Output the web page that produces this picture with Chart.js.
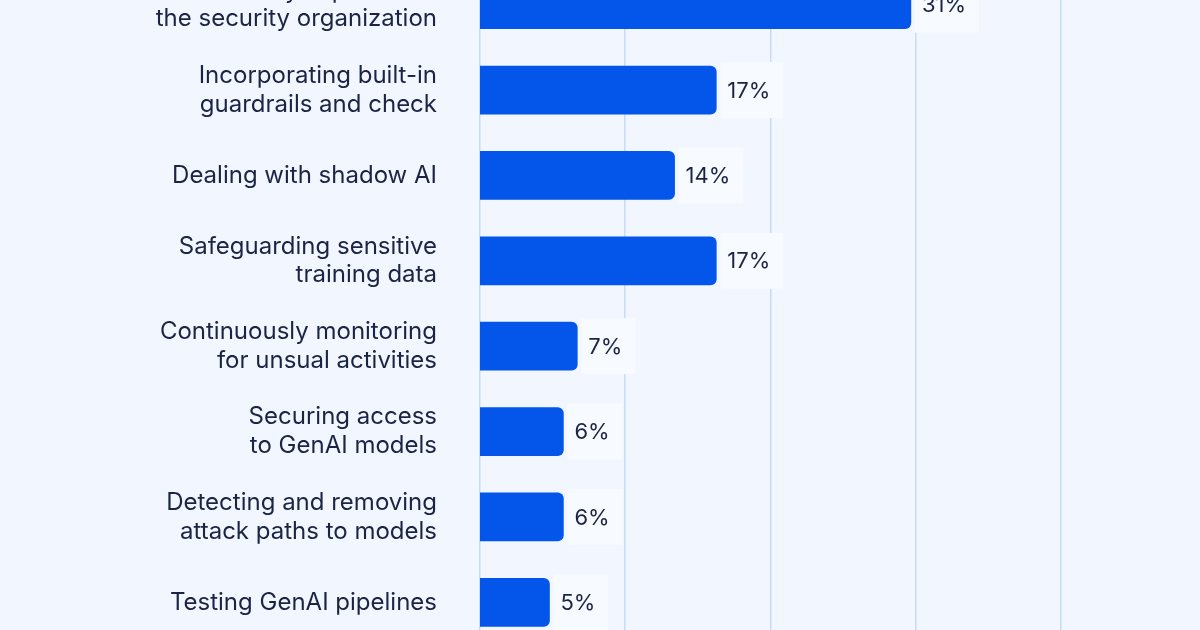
<!DOCTYPE html>
<html>
<head>
  <title>GenAI security challenges</title>
  <script src="https://cdn.jsdelivr.net/npm/chart.js"></script>
  <style>
    html, body {
      margin: 0;
      padding: 0;
      background: #f2f6fe;
      overflow: hidden;
      width: 1200px;
      height: 630px;
    }
    #challengeChart {
      position: absolute;
      left: 0;
      top: -38px;
    }
  </style>
</head>
<body>
  <canvas id="challengeChart" width="1200" height="683"></canvas>

  <script>
    const categories = [
      ['Lack of AI security expertise in', 'the security organization'],
      ['Incorporating built-in', 'guardrails and check'],
      'Dealing with shadow AI',
      ['Safeguarding sensitive', 'training data'],
      ['Continuously monitoring', 'for unsual activities'],
      ['Securing access', 'to GenAI models'],
      ['Detecting and removing', 'attack paths to models'],
      'Testing GenAI pipelines'
    ];
    const shares = [31, 17, 14, 17, 7, 6, 6, 5];
    const valueLabels = ['31%', '17%', '14%', '17%', '7%', '6%', '6%', '5%'];

    const FONT = 'Inter, "DejaVu Sans", sans-serif';
    const TEXT = '#1b2444';

    // 값 라벨 그리기 (밝은 박스 위에)
    const valueLabelPlugin = {
      id: 'valueLabels',
      afterDatasetsDraw(chart) {
        const ctx = chart.ctx;
        const meta = chart.getDatasetMeta(0);
        ctx.save();
        ctx.font = '400 22px ' + FONT;
        ctx.textBaseline = 'middle';
        ctx.textAlign = 'left';
        meta.data.forEach((bar, i) => {
          const text = valueLabels[i];
          const w = ctx.measureText(text).width;
          ctx.fillStyle = '#f7faff';
          ctx.fillRect(bar.x + 4, bar.y - 28, w + 20, 56);
          ctx.fillStyle = TEXT;
          ctx.fillText(text, bar.x + 11, bar.y + 1);
        });
        ctx.restore();
      }
    };

    const ctx = document.getElementById('challengeChart').getContext('2d');
    const chart = new Chart(ctx, {
      type: 'bar',
      data: {
        labels: categories,
        datasets: [{
          data: shares,
          backgroundColor: '#0455ea',
          borderRadius: 6,
          borderSkipped: 'start',
          barThickness: 48
        }]
      },
      options: {
        indexAxis: 'y',
        responsive: false,
        animation: false,
        layout: { padding: 0 },
        plugins: {
          legend: { display: false },
          tooltip: { enabled: false }
        },
        scales: {
          x: {
            min: 0,
            max: 51.8,
            display: false
          },
          grid: {
            type: 'linear',
            axis: 'x',
            position: 'bottom',
            min: 0,
            max: 4.957,
            ticks: { display: false, stepSize: 1, includeBounds: false },
            grid: { color: '#c6dafc', lineWidth: 1.5, drawTicks: false },
            border: { display: false }
          },
          y: {
            grid: { display: false, drawTicks: false },
            border: { display: false },
            afterFit(scale) {
              scale.width = 480;
              scale.paddingTop = 0;
              scale.paddingBottom = 0;
            },
            ticks: {
              color: TEXT,
              padding: 43,
              font: { family: FONT, size: 24, lineHeight: 1.2 }
            }
          }
        }
      },
      plugins: [valueLabelPlugin]
    });
  </script>
</body>
</html>
